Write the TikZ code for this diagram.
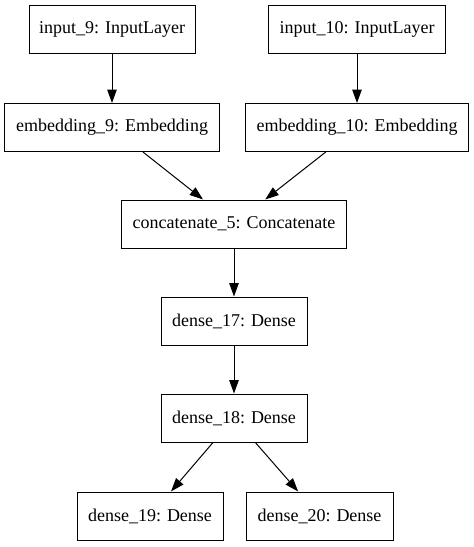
\documentclass[tikz,border=0pt]{standalone}
\usepackage{fontspec}
\setmainfont{Liberation Serif}
\usetikzlibrary{arrows.meta}

\begin{document}
\begin{tikzpicture}[x=1pt, y=-1pt,
    layer/.style={rectangle, draw, line width=1pt, minimum height=48pt, inner sep=0pt, font=\fontsize{18}{20}\selectfont},
    flow/.style={-{Triangle[length=13.5pt, width=9.5pt]}, line width=1pt}]
    \useasboundingbox (0,0) rectangle (474,547);

    % レイヤーの定義
    \node[layer, minimum width=166pt] (in9) at (112, 29) {input\_9: InputLayer};
    \node[layer, minimum width=177pt] (in10) at (357, 29) {input\_10: InputLayer};
    \node[layer, minimum width=215pt] (emb9) at (112, 127.5) {embedding\_9: Embedding};
    \node[layer, minimum width=223pt] (emb10) at (357, 127.5) {embedding\_10: Embedding};
    \node[layer, minimum width=225pt] (cat5) at (234, 224) {concatenate\_5: Concatenate};
    \node[layer, minimum width=146pt] (d17) at (234, 321) {dense\_17: Dense};
    \node[layer, minimum width=146pt] (d18) at (234, 418) {dense\_18: Dense};
    \node[layer, minimum width=146pt] (d19) at (150, 516) {dense\_19: Dense};
    \node[layer, minimum width=147pt] (d20) at (319.5, 516) {dense\_20: Dense};

    % エッジの定義
    \draw[flow] (in9) -- (emb9);
    \draw[flow] (in10) -- (emb10);
    \draw[flow] (emb9) -- (cat5);
    \draw[flow] (emb10) -- (cat5);
    \draw[flow] (cat5) -- (d17);
    \draw[flow] (d17) -- (d18);
    \draw[flow] (d18) -- (d19);
    \draw[flow] (d18) -- (d20);
\end{tikzpicture}
\end{document}
